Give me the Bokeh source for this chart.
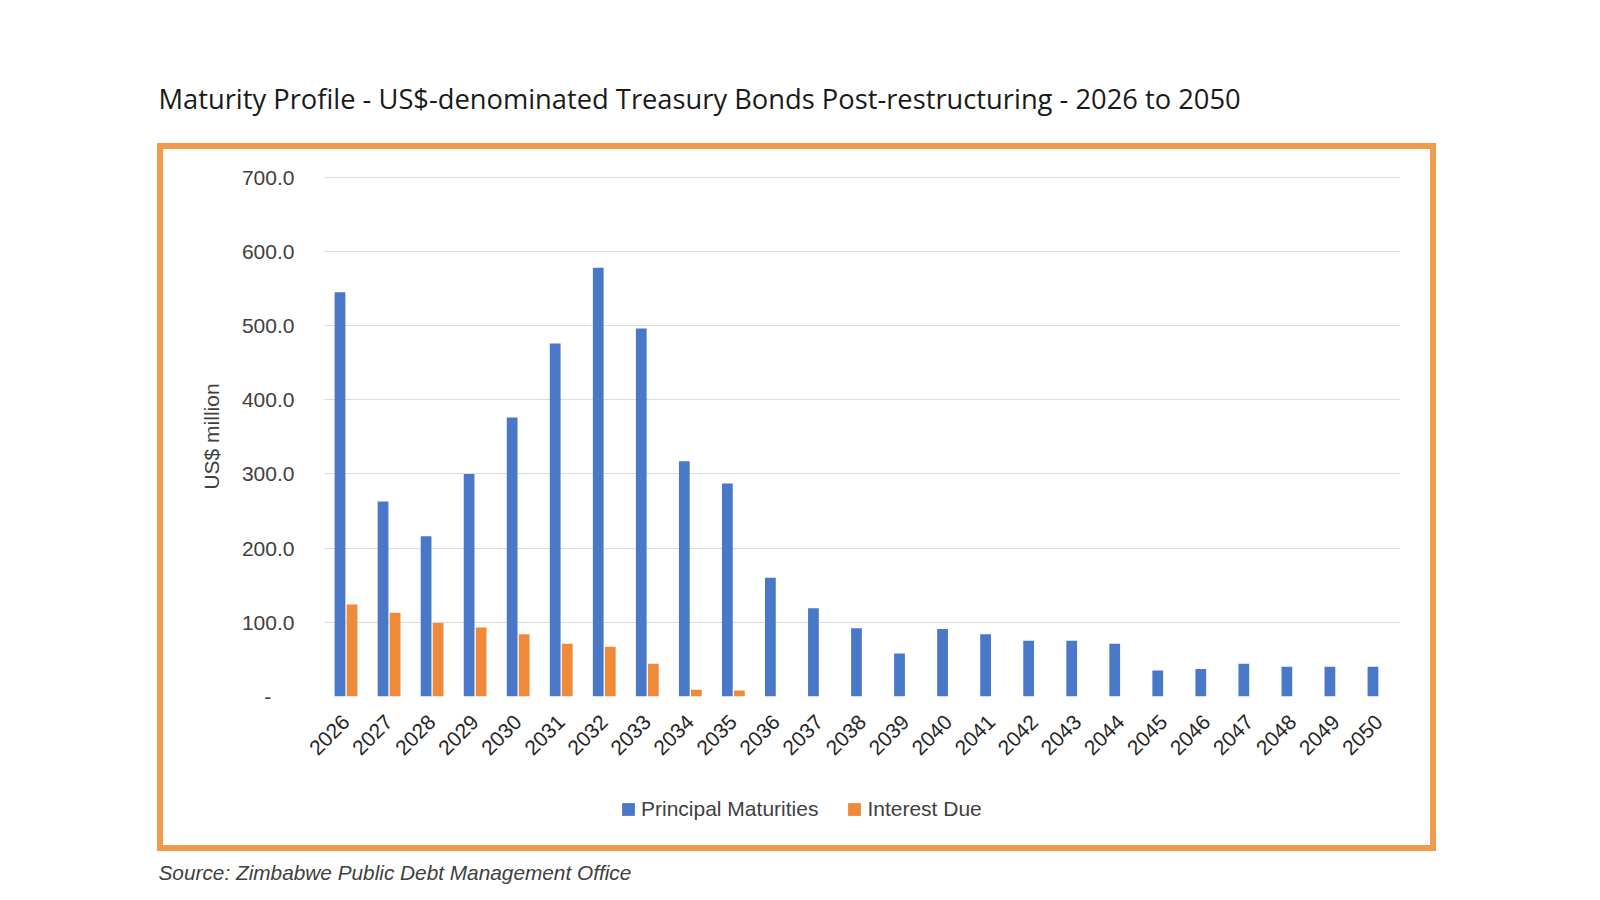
from bokeh.plotting import figure
from bokeh.layouts import column
from bokeh.models import (FactorRange, Range1d, FixedTicker, NumeralTickFormatter,
                          Legend, LegendItem, Label, ColumnDataSource)
from bokeh.transform import dodge
from bokeh.embed import file_html
from bokeh.resources import INLINE
from math import pi

years = [str(y) for y in range(2026, 2051)]
principal = [545, 263, 216, 300, 376, 476, 578, 496, 317, 287,
             160, 119, 92, 58, 91, 84, 75, 75, 71,
             35, 37, 44, 40, 40, 40]
interest = [124, 113, 99, 93, 84, 71, 67, 44, 9, 8,
            0, 0, 0, 0, 0, 0, 0, 0, 0,
            0, 0, 0, 0, 0, 0]
y_ticks = [0, 100, 200, 300, 400, 500, 600, 700]

title_text = "Maturity Profile - US$-denominated Treasury Bonds Post-restructuring - 2026 to 2050"
source_text = "Source: Zimbabwe Public Debt Management Office"
y_label = "US$ million"
legend_labels = ["Principal Maturities", "Interest Due"]

BLUE = "#4A78C8"
ORANGE = "#EE8A3A"
FRAME = "#F09A4C"

PAGE_W = 1584
INNER_W = 1267
WHITE_BG = {"background-color": "white"}

# ---------- header (title) ----------
HEAD_H = 143
head = figure(width=PAGE_W, height=HEAD_H, output_backend="svg", toolbar_location=None,
              x_range=Range1d(0, PAGE_W), y_range=Range1d(0, HEAD_H),
              x_axis_type=None, y_axis_type=None, min_border=0)
head.outline_line_color = None
head.add_layout(Label(x=158, y=45, text=title_text, text_font="Open Sans",
                      text_font_size="27.3px", text_color="#1a1a1a",
                      text_baseline="middle", text_align="left"))

# ---------- main chart ----------
src = ColumnDataSource(dict(year=years, principal=principal, interest=interest))
p = figure(width=INNER_W, height=616, output_backend="svg", toolbar_location=None,
           x_range=FactorRange(factors=years, range_padding=0),
           y_range=Range1d(0, 701),
           min_border_left=161, min_border_right=30,
           min_border_top=27, min_border_bottom=69,
           margin=(6, 6, 0, 6), styles=WHITE_BG)
p.outline_line_color = None
p.background_fill_color = "white"
p.border_fill_color = "white"

r1 = p.vbar(x=dodge("year", -0.14, range=p.x_range), top="principal", width=0.25,
            source=src, fill_color=BLUE, line_color=None)
r2 = p.vbar(x=dodge("year", 0.14, range=p.x_range), top="interest", width=0.25,
            source=src, fill_color=ORANGE, line_color=None)

p.xgrid.grid_line_color = None
p.ygrid.grid_line_color = "#DCDCDC"
p.ygrid.grid_line_width = 1

p.yaxis.ticker = FixedTicker(ticks=y_ticks)
p.yaxis.formatter = NumeralTickFormatter(format="0.0")
p.yaxis.major_label_overrides = {0: "-\u00a0\u00a0\u00a0\u00a0"}
for ax in (p.xaxis[0], p.yaxis[0]):
    ax.axis_line_color = None
    ax.major_tick_line_color = None
    ax.minor_tick_line_color = None
    ax.major_label_text_font = "Liberation Sans"
    ax.major_label_text_font_size = "21px"
p.yaxis.major_label_text_color = "#404040"
p.yaxis.major_label_standoff = 24
p.yaxis.axis_label = y_label
p.yaxis.axis_label_text_font = "Liberation Sans"
p.yaxis.axis_label_text_font_size = "21px"
p.yaxis.axis_label_text_font_style = "normal"
p.yaxis.axis_label_text_color = "#404040"
p.yaxis.axis_label_standoff = 16
p.xaxis.major_label_orientation = pi / 4
p.xaxis.major_label_text_color = "#262626"
p.xaxis.major_label_standoff = 16

# ---------- legend strip (inside the orange frame) ----------
LEG_H = 80
leg = figure(width=INNER_W, height=LEG_H, output_backend="svg", toolbar_location=None,
             x_range=Range1d(0, 1), y_range=Range1d(0, 1),
             x_axis_type=None, y_axis_type=None, min_border=0,
             margin=(0, 6, 6, 6), styles=WHITE_BG)
leg.outline_line_color = None
leg.background_fill_color = "white"
leg.border_fill_color = "white"
# legend proxies: one off-range mark each so the legend swatches are drawn
lr1 = leg.vbar(x=[-5], top=[-5], width=0.1, fill_color=BLUE, line_color=None)
lr2 = leg.vbar(x=[-5], top=[-5], width=0.1, fill_color=ORANGE, line_color=None)
legend = Legend(items=[LegendItem(label=legend_labels[0], renderers=[lr1]),
                       LegendItem(label=legend_labels[1], renderers=[lr2])],
                orientation="horizontal", location=(296, 24),
                padding=0, margin=0, spacing=28, label_standoff=5,
                glyph_width=16, glyph_height=16, label_height=22,
                label_text_font="Liberation Sans", label_text_font_size="21px",
                label_text_color="#404040", border_line_color=None,
                background_fill_alpha=0)
leg.add_layout(legend, "center")

framed = column(p, leg, margin=(0, 0, 0, 157),
                styles={"background-color": "white",
                        "box-shadow": "inset 0 0 0 6px " + FRAME})

# ---------- source ----------
SRC_H = 33
foot = figure(width=PAGE_W, height=SRC_H, output_backend="svg", toolbar_location=None,
              x_range=Range1d(0, PAGE_W), y_range=Range1d(0, SRC_H),
              x_axis_type=None, y_axis_type=None, min_border=0)
foot.outline_line_color = None
foot.add_layout(Label(x=158, y=12, text=source_text, text_font="Liberation Sans",
                      text_font_size="20.8px", text_font_style="italic",
                      text_color="#404040", text_baseline="middle", text_align="left"))

page = column(head, framed, foot)
open("out.html", "w").write(file_html(page, INLINE))
